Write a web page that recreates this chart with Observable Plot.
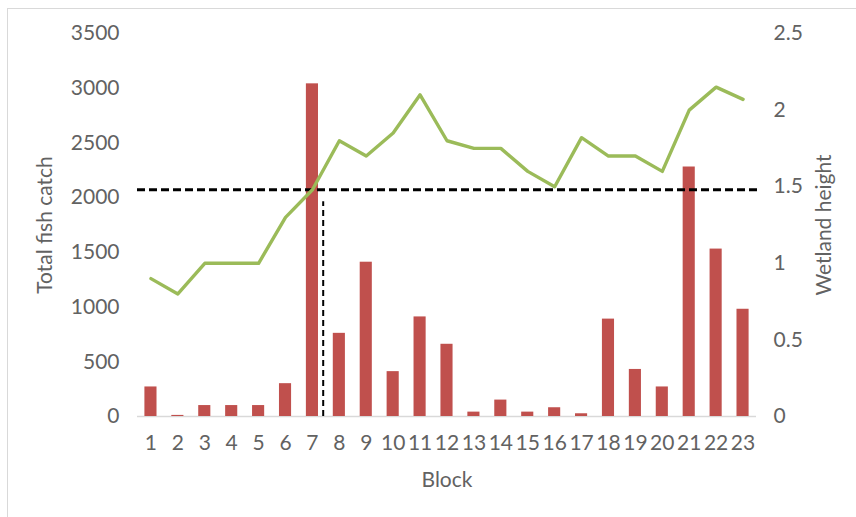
<!DOCTYPE html>
<html>
<head>
<meta charset="utf-8">
<script src="https://cdn.jsdelivr.net/npm/d3@7"></script>
<script src="https://cdn.jsdelivr.net/npm/@observablehq/plot@0.6"></script>
<style>
  html, body { margin: 0; padding: 0; background: #fff; overflow: hidden; }
  #wrap { position: relative; width: 856px; height: 517px; }
  #frame { position: absolute; left: 7px; top: 8px; width: 900px; height: 600px; border: 1px solid #d9d9d9; pointer-events: none; }
  #chart { position: absolute; left: 0; top: 0; }
  #chart svg g[aria-label$="label"] text { font-size: 21px; }
</style>
</head>
<body>
<div id="wrap"><div id="frame"></div><div id="chart"></div></div>
<script>
const blocks = [1,2,3,4,5,6,7,8,9,10,11,12,13,14,15,16,17,18,19,20,21,22,23];
const fishCatch = [270, 10, 100, 100, 100, 300, 3040, 760, 1410, 410, 910, 660, 40, 150, 40, 80, 25, 890, 430, 270, 2280, 1530, 980];
const wetlandHeight = [0.9, 0.8, 1.0, 1.0, 1.0, 1.3, 1.48, 1.8, 1.7, 1.85, 2.1, 1.8, 1.75, 1.75, 1.6, 1.5, 1.82, 1.7, 1.7, 1.6, 2.0, 2.15, 2.07];
const leftTicks = [0, 500, 1000, 1500, 2000, 2500, 3000, 3500];
const rightTicks = [0, 0.5, 1, 1.5, 2, 2.5];
const thresholdHeight = 1.48;
const thresholdBlock = 7.4;

const ratio = 3500 / 2.5;
const rows = blocks.map((b, i) => ({block: b, catch: fishCatch[i], height: wetlandHeight[i]}));

const chart = Plot.plot({
  width: 856,
  height: 517,
  marginLeft: 137,
  marginRight: 100,
  marginTop: 33,
  marginBottom: 101,
  x: {type: "linear", domain: [0.5, 23.5]},
  y: {domain: [0, 3500]},
  style: {fontFamily: "Lato, sans-serif", fontSize: "19px", color: "#626262", background: "transparent"},
  marks: [
    Plot.ruleY([0], {stroke: "#d9d9d9", strokeWidth: 1.5}),
    Plot.rectY(rows, {x1: d => d.block - 0.225, x2: d => d.block + 0.225, y: "catch", fill: "#C0504D"}),
    Plot.ruleY([thresholdHeight * ratio], {stroke: "#000", strokeWidth: 3, strokeDasharray: "8,4", insetRight: -5}),
    Plot.ruleX([thresholdBlock], {y1: 0, y2: thresholdHeight * ratio, stroke: "#000", strokeWidth: 2, strokeDasharray: "6,4", insetBottom: -12}),
    Plot.line(rows, {x: "block", y: d => d.height * ratio, stroke: "#9BBB59", strokeWidth: 3.4}),
    Plot.axisY(leftTicks, {anchor: "left", tickSize: 0, tickPadding: 18, tickFormat: d => String(d), label: "Total fish catch", labelAnchor: "center", labelOffset: 100, labelArrow: "none"}),
    Plot.axisY(rightTicks.map(v => v * ratio), {anchor: "right", tickSize: 0, tickPadding: 17, tickFormat: d => String(+(d / ratio).toFixed(2)), label: "Wetland height", labelAnchor: "center", labelOffset: 74, labelArrow: "none"}),
    Plot.axisX(blocks, {anchor: "bottom", tickSize: 0, tickPadding: 19, tickFormat: d => String(d), label: "Block", labelAnchor: "center", labelOffset: 70, labelArrow: "none"})
  ]
});
document.getElementById("chart").appendChild(chart);
</script>
</body>
</html>
